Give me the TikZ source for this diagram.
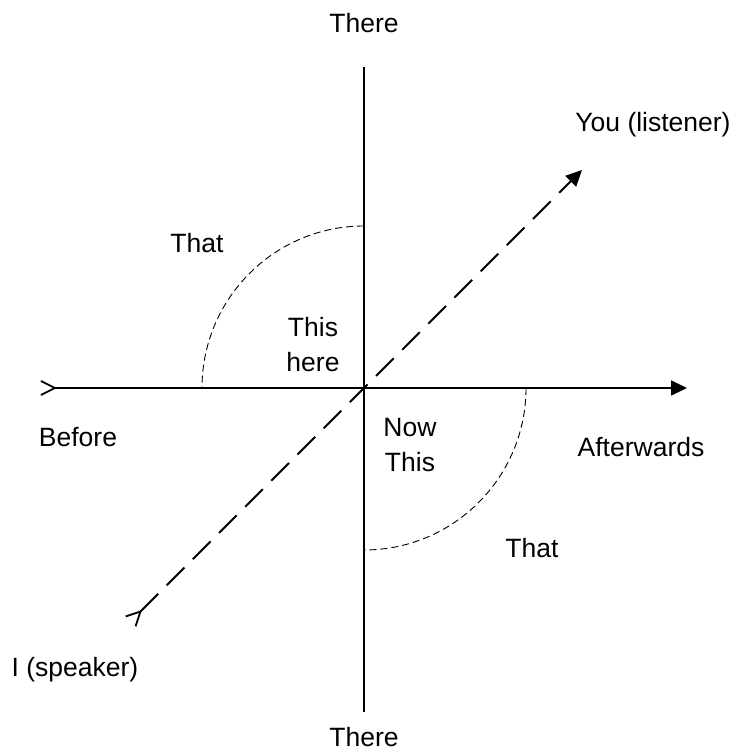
\documentclass[tikz,border=0pt]{standalone}
\usepackage{fontspec}
\setmainfont{Liberation Sans}
\usepackage{tikz}
\usetikzlibrary{arrows.meta,positioning}
\tikzset{
  ax/.style={line width=0.9pt,
             {Straight Barb[length=7pt,width=7pt,reversed]}-{Triangle[length=8pt,width=7.5pt]}},
  axd/.style={ax,dash pattern=on 12.5pt off 6pt},
  zone/.style={line width=0.45pt,dash pattern=on 3.5pt off 2pt},
  lbl/.style={font=\fontsize{13.25}{17.5}\selectfont,align=center,inner sep=0pt},
}

\begin{document}
\begin{tikzpicture}[x=0.5pt,y=0.5pt]
    \useasboundingbox (0,0) rectangle (734,749);
    % axes
    \coordinate (o) at (364,361);
    \coordinate (north) at (364,682);
    \coordinate (south) at (364,37);
    \coordinate (west) at (40,361);
    \coordinate (east) at (687,361);
    \coordinate (sw) at (130,127);
    \coordinate (ne) at (582,579);
    \draw[line width=0.9pt] (north) -- (south);
    \draw[ax] (west) -- (east);
    \draw[axd] (sw) -- (ne);
    % near zones
    \draw[zone] (364,523) arc[start angle=90,end angle=180,radius=162];
    \draw[zone] (526,361) arc[start angle=0,end angle=-90,radius=162];
    % labels
    \node[lbl] (thereN) at (364,726) {There};
    \node[lbl] (thereS) at (364,12) {There};
    \node[lbl] (before) at (78,312) {Before};
    \node[lbl] (after) at (641,302) {Afterwards};
    \node[lbl] (you) at (653,624) {You (listener)};
    \node[lbl] (me) at (75,79) {I (speaker)};
    \node[lbl] (thatA) at (197,506) {That};
    \node[lbl] (here) at (313,404) {This\\here};
    \node[lbl] (now) at (410,304) {Now\\This};
    \node[lbl] (thatB) at (532,201) {That};
\end{tikzpicture}
\end{document}
